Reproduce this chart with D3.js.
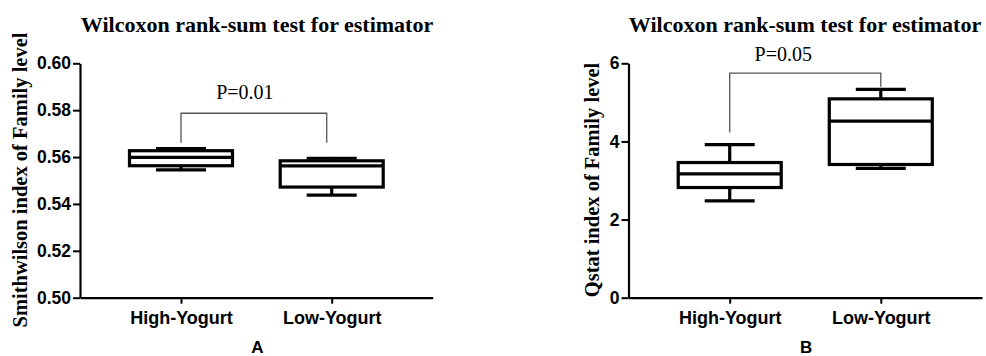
<!DOCTYPE html>
<html>
<head>
<meta charset="utf-8">
<script src="https://cdn.jsdelivr.net/npm/d3@7"></script>
<style>
  html, body { margin: 0; padding: 0; background: #fff; }
  svg { display: block; }
</style>
</head>
<body>
<div id="chart"></div>
<script>
// categories
const groups = ['High-Yogurt', 'Low-Yogurt'];

// box stats per group: [min, q1, median, q3, max]
const smithwilsonBoxes = [
  [0.5545, 0.5563, 0.5599, 0.5627, 0.5636],
  [0.5438, 0.5472, 0.5562, 0.5584, 0.5595]
];
const qstatBoxes = [
  [2.48, 2.82, 3.17, 3.46, 3.92],
  [3.31, 3.41, 4.52, 5.09, 5.33]
];

// significance bracket: [left end, top, right end]
const smithwilsonBracket = [0.5661, 0.5787, 0.5661];
const qstatBracket = [4.23, 5.75, 5.40];

const smithwilsonTicks = [0.50, 0.52, 0.54, 0.56, 0.58, 0.60];
const qstatTicks = [0, 2, 4, 6];

const width = 986;
const height = 356;
const sans = '"Liberation Sans", Arial, sans-serif';
const serif = '"Liberation Serif", "Times New Roman", serif';

const svg = d3.select('#chart').append('svg')
  .attr('width', width)
  .attr('height', height);

svg.append('rect')
  .attr('width', width)
  .attr('height', height)
  .attr('fill', '#fff');

function drawPanel(opts) {
  const g = svg.append('g');

  const x = d3.scalePoint()
    .domain(groups)
    .range([opts.left, opts.right])
    .padding(0.67);

  const y = d3.scaleLinear()
    .domain(opts.domain)
    .range([297.7, 63.3]);

  // y axis
  const yAxis = g.append('g')
    .attr('transform', `translate(${opts.left},0)`)
    .call(d3.axisLeft(y)
      .tickValues(opts.ticks)
      .tickFormat(opts.format)
      .tickSize(7)
      .tickSizeOuter(0)
      .tickPadding(2));

  // x axis
  const xAxis = g.append('g')
    .attr('transform', `translate(0,${y(opts.domain[0])})`)
    .call(d3.axisBottom(x)
      .tickSize(6)
      .tickSizeOuter(0)
      .tickPadding(7.5));

  [yAxis, xAxis].forEach(ax => {
    ax.select('.domain').attr('stroke', '#000').attr('stroke-width', 2.2);
    ax.selectAll('.tick line').attr('stroke', '#000').attr('stroke-width', 2);
    ax.selectAll('.tick text')
      .attr('fill', '#000')
      .style('font-family', sans)
      .style('font-weight', 'bold');
  });
  yAxis.selectAll('.tick text').style('font-size', '17.5px');
  xAxis.selectAll('.tick text').style('font-size', '18px');

  // boxes
  const boxW = 103;
  const capW = 50;
  const boxes = g.selectAll('.box')
    .data(opts.boxes)
    .enter()
    .append('g')
    .attr('class', 'box')
    .attr('transform', (d, i) => `translate(${x(groups[i])},0)`);

  boxes.append('line')
    .attr('x1', 0).attr('x2', 0)
    .attr('y1', d => y(d[3])).attr('y2', d => y(d[4]));
  boxes.append('line')
    .attr('x1', 0).attr('x2', 0)
    .attr('y1', d => y(d[1])).attr('y2', d => y(d[0]));
  boxes.append('line')
    .attr('x1', -capW / 2).attr('x2', capW / 2)
    .attr('y1', d => y(d[4])).attr('y2', d => y(d[4]));
  boxes.append('line')
    .attr('x1', -capW / 2).attr('x2', capW / 2)
    .attr('y1', d => y(d[0])).attr('y2', d => y(d[0]));
  boxes.append('rect')
    .attr('x', -boxW / 2)
    .attr('width', boxW)
    .attr('y', d => y(d[3]))
    .attr('height', d => y(d[1]) - y(d[3]))
    .attr('fill', '#fff');
  boxes.append('line')
    .attr('x1', -boxW / 2).attr('x2', boxW / 2)
    .attr('y1', d => y(d[2])).attr('y2', d => y(d[2]));
  boxes.selectAll('line, rect')
    .attr('stroke', '#000')
    .attr('stroke-width', 3.2);

  // significance bracket
  const b = opts.bracket;
  const x0 = x(groups[0]);
  const x1 = x(groups[1]) + opts.bracketShift;
  g.append('path')
    .attr('d', `M${x0},${y(b[0])}V${y(b[1])}H${x1}V${y(b[2])}`)
    .attr('fill', 'none')
    .attr('stroke', '#555')
    .attr('stroke-width', 1.3);

  g.append('text')
    .attr('x', (x0 + x1) / 2 + opts.pShift)
    .attr('y', y(b[1]) + opts.pDy)
    .attr('text-anchor', 'middle')
    .style('font-family', serif)
    .style('font-size', '20px')
    .text(opts.pLabel);

  // title
  g.append('text')
    .attr('x', opts.titleX)
    .attr('y', 32.3)
    .attr('text-anchor', 'middle')
    .style('font-family', serif)
    .style('font-weight', 'bold')
    .style('font-size', '22px')
    .text('Wilcoxon rank-sum test for estimator');

  // y label
  g.append('text')
    .attr('transform', `translate(${opts.labelX},180) rotate(-90)`)
    .attr('text-anchor', 'middle')
    .style('font-family', serif)
    .style('font-weight', 'bold')
    .style('font-size', '20.5px')
    .text(opts.yLabel);

  // panel letter
  g.append('text')
    .attr('x', (opts.left + opts.right) / 2 + 1)
    .attr('y', 353)
    .attr('text-anchor', 'middle')
    .style('font-family', sans)
    .style('font-weight', 'bold')
    .style('font-size', '17px')
    .text(opts.letter);
}

drawPanel({
  left: 80,
  right: 432.7,
  domain: [0.50, 0.60],
  ticks: smithwilsonTicks,
  format: d3.format('.2f'),
  boxes: smithwilsonBoxes,
  bracket: smithwilsonBracket,
  bracketShift: -5,
  pLabel: 'P=0.01',
  pShift: -9,
  pDy: -14,
  titleX: 257,
  labelX: 27,
  yLabel: 'Smithwilson index of Family level',
  letter: 'A'
});

drawPanel({
  left: 628.5,
  right: 982,
  domain: [0, 6],
  ticks: qstatTicks,
  format: d3.format('d'),
  boxes: qstatBoxes,
  bracket: qstatBracket,
  bracketShift: 0,
  pLabel: 'P=0.05',
  pShift: -22,
  pDy: -12,
  titleX: 805,
  labelX: 599,
  yLabel: 'Qstat index of Family level',
  letter: 'B'
});
</script>
</body>
</html>
